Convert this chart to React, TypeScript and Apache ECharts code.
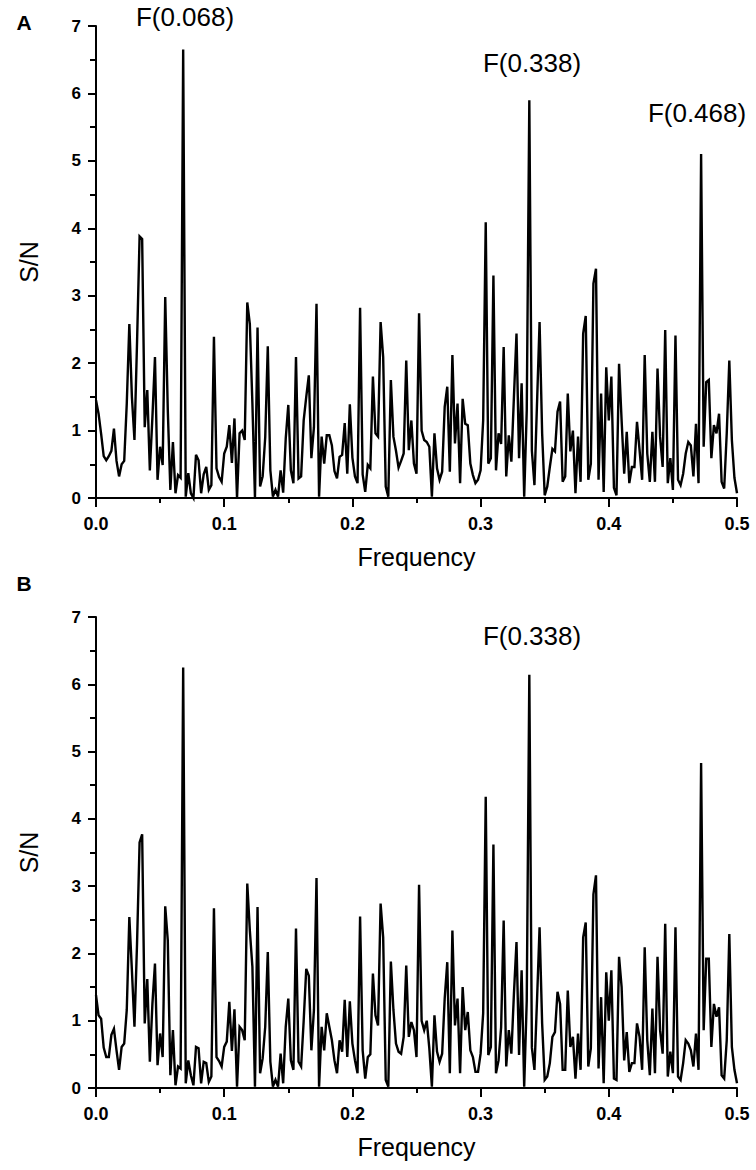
import React, { useEffect, useRef } from "react";
import * as echarts from "echarts";

const FREQ_STEP = 0.002;
const X_TICKS = [0, 0.1, 0.2, 0.3, 0.4, 0.5];
const Y_TICKS = [0, 1, 2, 3, 4, 5, 6, 7];

const snA = [
  1.45, 1.25, 0.95, 0.62, 0.56, 0.62, 0.7, 1.03, 0.55, 0.32,
  0.5, 0.55, 1.4, 2.58, 1.5, 0.86, 2.3, 3.88, 3.84, 1.05,
  1.6, 0.41, 1.2, 2.09, 0.27, 0.76, 0.49, 2.98, 1.3, 0.12,
  0.83, 0.07, 0.34, 0.3, 6.65, 0.02, 0.37, 0.07, 0.0, 0.64,
  0.56, 0.07, 0.35, 0.46, 0.12, 0.19, 2.39, 0.44, 0.31, 0.24,
  0.66, 0.76, 1.08, 0.52, 1.18, 0.0, 0.96, 1.0, 0.86, 2.9,
  2.58, 1.4, 0.0, 2.53, 0.17, 0.32, 0.9, 2.25, 0.41, 0.02,
  0.12, 0.02, 0.41, 0.08, 0.88, 1.38, 0.41, 0.22, 2.09, 0.29,
  0.32, 1.15, 1.5, 1.82, 0.59, 1.05, 2.88, 0.02, 0.91, 0.51,
  0.93, 0.93, 0.78, 0.4, 0.29, 0.61, 0.64, 1.11, 0.36, 1.39,
  0.6, 0.32, 0.22, 2.82, 0.35, 0.09, 0.49, 0.44, 1.8, 0.96,
  0.91, 2.61, 2.09, 0.17, 0.02, 1.75, 0.91, 0.7, 0.45, 0.55,
  0.66, 2.04, 0.71, 1.15, 0.51, 0.36, 2.74, 1.0, 0.86, 0.83,
  0.76, 0.02, 0.96, 0.44, 0.27, 0.39, 1.35, 1.65, 0.39, 2.12,
  0.81, 1.4, 0.22, 1.47, 1.1, 1.08, 0.51, 0.34, 0.22, 0.27,
  0.41, 1.15, 4.09, 0.51, 0.59, 3.3, 0.41, 0.96, 0.8, 2.24,
  0.32, 0.93, 0.54, 1.5, 2.44, 0.59, 1.7, 0.02, 1.3, 5.9,
  0.7, 0.19, 1.4, 2.61, 0.96, 0.04, 0.17, 0.46, 0.73, 0.69,
  1.28, 1.43, 0.24, 0.32, 1.55, 0.69, 1.0, 0.07, 0.91, 0.24,
  2.44, 2.7, 0.27, 0.51, 3.18, 3.4, 0.27, 1.55, 0.09, 1.94,
  1.15, 1.8, 0.15, 0.04, 1.99, 1.15, 0.36, 0.98, 0.22, 0.46,
  0.46, 1.13, 0.71, 0.27, 2.12, 0.66, 0.24, 0.98, 0.24, 1.92,
  0.91, 0.46, 2.49, 0.22, 0.59, 0.12, 2.41, 0.27, 0.19, 0.36,
  0.66, 0.83, 0.78, 0.32, 1.1, 0.22, 5.1, 0.76, 1.72, 1.75,
  0.59, 1.08, 0.96, 1.25, 0.24, 0.14, 0.96, 2.04, 0.86, 0.3,
  0.07,
];

const snB = [
  1.38, 1.08, 1.03, 0.6, 0.46, 0.46, 0.79, 0.88, 0.56, 0.27,
  0.61, 0.66, 1.16, 2.54, 1.75, 0.91, 2.14, 3.65, 3.77, 0.96,
  1.62, 0.39, 1.25, 1.85, 0.34, 0.81, 0.46, 2.7, 2.19, 0.19,
  0.86, 0.04, 0.32, 0.29, 6.25, 0.07, 0.41, 0.19, 0.04, 0.61,
  0.59, 0.07, 0.39, 0.37, 0.09, 0.17, 2.67, 0.46, 0.4, 0.32,
  0.61, 0.69, 1.28, 0.55, 1.17, 0.02, 0.91, 0.86, 0.71, 3.04,
  2.34, 1.8, 0.02, 2.69, 0.22, 0.44, 0.91, 2.02, 0.39, 0.02,
  0.12, 0.02, 0.51, 0.07, 0.91, 1.33, 0.41, 0.27, 2.37, 0.39,
  0.32, 1.0, 1.77, 1.67, 0.56, 1.16, 3.12, 0.02, 0.91, 0.56,
  1.11, 0.91, 0.71, 0.41, 0.22, 0.71, 0.54, 1.31, 0.46, 1.29,
  0.66, 0.41, 0.22, 2.55, 0.56, 0.14, 0.46, 0.5, 1.7, 1.08,
  0.93, 2.74, 2.24, 0.12, 0.02, 1.88, 1.16, 0.66, 0.54, 0.51,
  0.76, 1.82, 0.76, 0.98, 0.86, 0.46, 3.02, 1.0, 0.86, 1.0,
  0.59, 0.02, 1.08, 0.54, 0.39, 0.51, 1.33, 1.87, 0.22, 2.34,
  0.93, 1.33, 0.22, 1.5, 0.86, 1.13, 0.56, 0.46, 0.24, 0.24,
  0.51, 1.11, 4.33, 0.49, 0.61, 3.62, 0.22, 0.41, 0.9, 2.49,
  0.32, 0.86, 0.51, 1.4, 2.17, 0.49, 1.75, 0.02, 1.3, 6.14,
  0.6, 0.27, 1.3, 2.39, 0.96, 0.12, 0.17, 0.37, 0.76, 0.83,
  1.43, 1.25, 0.27, 0.27, 1.45, 0.61, 0.76, 0.14, 0.81, 0.27,
  2.24, 2.46, 0.32, 0.59, 2.88, 3.16, 0.29, 1.35, 0.07, 1.72,
  1.0, 1.75, 0.14, 0.12, 1.95, 1.5, 0.41, 0.83, 0.24, 0.37,
  0.37, 0.96, 0.76, 0.27, 2.09, 0.71, 0.19, 1.18, 0.22, 1.95,
  0.86, 0.51, 2.44, 0.17, 0.54, 0.22, 2.39, 0.17, 0.12, 0.37,
  0.71, 0.66, 0.56, 0.32, 0.81, 0.27, 4.83, 0.86, 1.92, 1.92,
  0.61, 1.25, 1.06, 1.2, 0.19, 0.14, 0.71, 2.29, 0.61, 0.27,
  0.07,
];

const panelLetters = ["A", "B"];
const peakLabelsA = ["F(0.068)", "F(0.338)", "F(0.468)"];
const peakLabelsB = ["F(0.338)"];

const FONT = "'Liberation Sans', Arial, Helvetica, sans-serif";

function toPairs(arr: number[]) {
  return arr.map((v, i) => [Number((i * FREQ_STEP).toFixed(3)), v]);
}

function makeX(gridIndex: number) {
  return {
    type: "value",
    gridIndex,
    min: X_TICKS[0],
    max: X_TICKS[X_TICKS.length - 1],
    interval: 0.1,
    axisLine: { show: true, onZero: false, lineStyle: { color: "#000", width: 2 } },
    axisTick: { show: true, inside: false, length: 9, lineStyle: { color: "#000", width: 2 } },
    minorTick: { show: true, splitNumber: 2, length: 5, lineStyle: { color: "#000", width: 2 } },
    splitLine: { show: false },
    minorSplitLine: { show: false },
    axisLabel: {
      margin: 17,
      color: "#000",
      fontSize: 18,
      fontWeight: "bold",
      fontFamily: FONT,
      formatter: (v: number) => v.toFixed(1),
    },
    name: "Frequency",
    nameLocation: "middle",
    nameGap: 46,
    nameTextStyle: { color: "#000", fontSize: 25, fontFamily: FONT },
  };
}

function makeY(gridIndex: number) {
  return {
    type: "value",
    gridIndex,
    min: Y_TICKS[0],
    max: Y_TICKS[Y_TICKS.length - 1],
    interval: 1,
    axisLine: { show: true, onZero: false, lineStyle: { color: "#000", width: 2 } },
    axisTick: { show: true, inside: false, length: 8, lineStyle: { color: "#000", width: 2 } },
    minorTick: { show: true, splitNumber: 2, length: 6, lineStyle: { color: "#000", width: 2 } },
    splitLine: { show: false },
    minorSplitLine: { show: false },
    axisLabel: {
      margin: 15,
      color: "#000",
      fontSize: 17,
      fontWeight: "bold",
      fontFamily: FONT,
    },
    name: "S/N",
    nameLocation: "middle",
    nameGap: 55,
    nameRotate: 90,
    nameTextStyle: { color: "#000", fontSize: 25, fontFamily: FONT },
  };
}

function lineSeries(data: number[], idx: number) {
  return {
    type: "line",
    xAxisIndex: idx,
    yAxisIndex: idx,
    data: toPairs(data),
    showSymbol: false,
    symbol: "none",
    clip: false,
    lineStyle: { color: "#000", width: 2.4, join: "miter" },
    emphasis: { disabled: true },
  };
}

export default function App() {
  const ref = useRef<HTMLDivElement>(null);

  useEffect(() => {
    if (!ref.current) return;
    const chart = echarts.init(ref.current, null, { renderer: "svg" });
    const txt = (text: string, x: number, y: number, size: number, bold = false) => ({
      type: "text",
      x,
      y,
      style: {
        text,
        fill: "#000",
        fontSize: size,
        fontWeight: bold ? "bold" : "normal",
        fontFamily: FONT,
        textAlign: "center",
        textVerticalAlign: "middle",
      },
    });
    chart.setOption({
      animation: false,
      backgroundColor: "#fff",
      grid: [
        { left: 96, top: 26, width: 641, height: 472 },
        { left: 96, top: 617, width: 641, height: 471 },
      ],
      xAxis: [makeX(0), makeX(1)],
      yAxis: [makeY(0), makeY(1)],
      series: [lineSeries(snA, 0), lineSeries(snB, 1)],
      graphic: [
        txt(panelLetters[0], 24, 22, 21, true),
        txt(panelLetters[1], 24, 583, 21, true),
        txt(peakLabelsA[0], 185, 17, 26),
        txt(peakLabelsA[1], 532, 63, 26),
        txt(peakLabelsA[2], 697, 113, 26),
        txt(peakLabelsB[0], 532, 636, 26),
      ],
    });
    return () => chart.dispose();
  }, []);

  return (
    <div
      ref={ref}
      style={{ position: "absolute", left: 0, top: 0, width: 756, height: 1170, background: "#fff" }}
    />
  );
}
